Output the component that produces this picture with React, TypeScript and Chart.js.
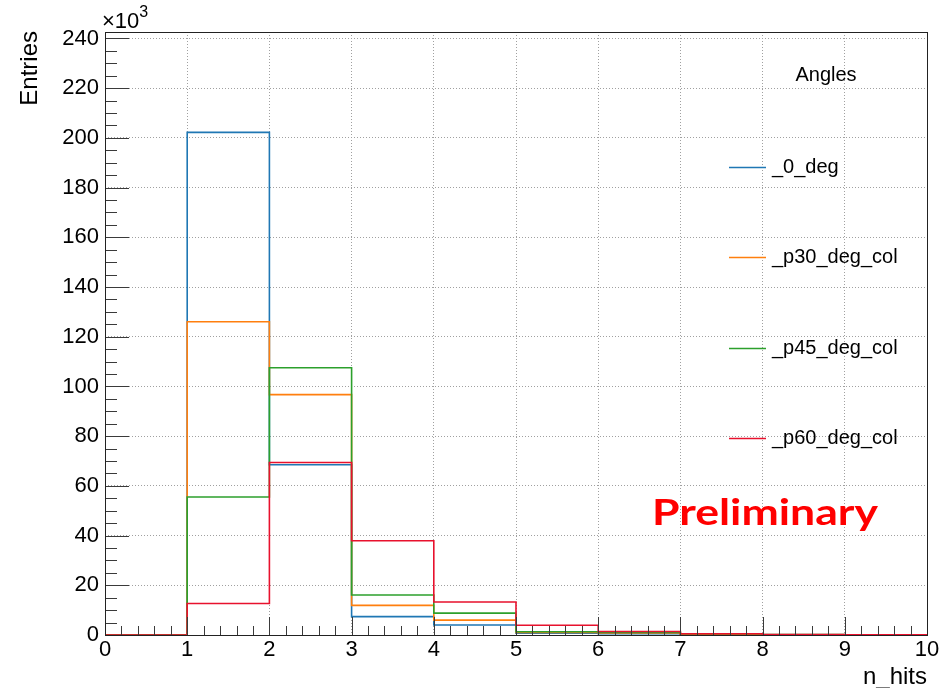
import React, { useEffect, useRef } from "react";
import { Chart, registerables } from "chart.js";

Chart.register(...registerables);

// ---- data ----
const binEdges = [0, 1, 2, 3, 4, 5, 6, 7, 8, 9, 10];
const seriesNames = ["_0_deg", "_p30_deg_col", "_p45_deg_col", "_p60_deg_col"];
const deg0 = [0, 202.2, 68.5, 7.4, 4.0, 0.7, 0.5, 0.2, 0.1, 0.05];
const p30 = [0, 126.0, 96.7, 11.9, 6.0, 1.0, 0.8, 0.3, 0.1, 0.05];
const p45 = [0, 55.5, 107.5, 16.1, 8.8, 1.3, 1.0, 0.5, 0.2, 0.1];
const p60 = [0, 12.7, 69.4, 37.9, 13.3, 3.9, 1.4, 0.5, 0.2, 0.1];
const xTickValues = [0, 1, 2, 3, 4, 5, 6, 7, 8, 9, 10];
const yTickValues = [0, 20, 40, 60, 80, 100, 120, 140, 160, 180, 200, 220, 240];
const yAxisMax = 242.6;

const seriesValues = [deg0, p30, p45, p60];
const colors = ["#1f77b4", "#ff7f0e", "#2ca02c", "#e8112d"];

const FONT = "'Liberation Sans', Arial, Helvetica, sans-serif";

// histogram outline: value v[i] spans [edge i, edge i+1]
function toSteps(values: number[]) {
  const pts = [{ x: binEdges[0], y: 0 }];
  values.forEach((v, i) => {
    pts.push({ x: binEdges[i], y: v });
    pts.push({ x: binEdges[i + 1], y: v });
  });
  return pts;
}

const rootStyle = {
  id: "rootStyle",
  afterDatasetsDraw(chart: any) {
    const { ctx, chartArea: a, scales } = chart;
    const x = scales.x;
    const y = scales.y;
    ctx.save();
    ctx.strokeStyle = "#3a3a3a";
    ctx.lineWidth = 1;
    ctx.beginPath();
    const yStep = yTickValues[1] - yTickValues[0];
    const yMinor = yStep / 4;
    const nY = Math.floor(yAxisMax / yMinor + 1e-9);
    for (let i = 0; i <= nY; i++) {
      const v = i * yMinor;
      const py = Math.round(y.getPixelForValue(v)) + 0.5;
      const len = i % 4 === 0 ? 24 : 12;
      ctx.moveTo(a.left, py);
      ctx.lineTo(a.left + len, py);
    }
    const xStep = xTickValues[1] - xTickValues[0];
    const xMinor = xStep / 5;
    const nX = Math.round((xTickValues[xTickValues.length - 1] - xTickValues[0]) / xMinor);
    for (let i = 0; i <= nX; i++) {
      const v = xTickValues[0] + i * xMinor;
      const px = Math.round(x.getPixelForValue(v)) + 0.5;
      const len = i % 5 === 0 ? 18 : 9;
      ctx.moveTo(px, a.bottom);
      ctx.lineTo(px, a.bottom - len);
    }
    ctx.stroke();
    ctx.strokeStyle = "#222";
    ctx.strokeRect(Math.round(a.left) + 0.5, Math.round(a.top) + 0.5, Math.round(a.right - a.left), Math.round(a.bottom - a.top));
    ctx.restore();
  },
  afterDraw(chart: any) {
    const { ctx, chartArea: a } = chart;
    ctx.save();
    ctx.fillStyle = "#000";
    ctx.save();
    ctx.translate(37, a.top - 1);
    ctx.rotate(-Math.PI / 2);
    ctx.font = `24px ${FONT}`;
    ctx.textAlign = "right";
    ctx.textBaseline = "alphabetic";
    ctx.fillText("Entries", 0, 0);
    ctx.restore();
    ctx.font = `24px ${FONT}`;
    ctx.textAlign = "right";
    ctx.textBaseline = "alphabetic";
    ctx.fillText("n_hits", a.right, 684);
    ctx.textAlign = "left";
    ctx.font = `22px ${FONT}`;
    ctx.fillText("\u00d710", a.left - 3, 28);
    const w = ctx.measureText("\u00d710").width;
    ctx.font = `16px ${FONT}`;
    ctx.fillText("3", a.left - 3 + w, 17);
    ctx.font = `20px ${FONT}`;
    ctx.textAlign = "center";
    ctx.textBaseline = "middle";
    ctx.fillText("Angles", 826, 75);
    const legendY = [167, 257, 348, 438];
    ctx.textAlign = "left";
    seriesNames.forEach((name, i) => {
      ctx.strokeStyle = colors[i];
      ctx.lineWidth = 1.6;
      ctx.beginPath();
      ctx.moveTo(729, legendY[i] + 0.5);
      ctx.lineTo(766, legendY[i] + 0.5);
      ctx.stroke();
      ctx.fillStyle = "#000";
      ctx.fillText(name, 772, legendY[i]);
    });
    ctx.font = `bold 36px Lato, 'Liberation Sans', sans-serif`;
    ctx.textAlign = "left";
    ctx.textBaseline = "alphabetic";
    const pw = ctx.measureText("Preliminary").width;
    const sx = 226 / pw;
    ctx.save();
    ctx.translate(652, 525);
    ctx.scale(sx, 1);
    ctx.fillStyle = "#ff0000";
    ctx.fillText("Preliminary", 0, 0);
    ctx.restore();
    ctx.restore();
  },
};

export default function App() {
  const ref = useRef<HTMLCanvasElement | null>(null);
  useEffect(() => {
    if (!ref.current) return;
    const datasets = seriesValues.map((vals, i) => ({
      label: seriesNames[i],
      data: toSteps(vals),
      borderColor: colors[i],
      backgroundColor: colors[i],
      borderWidth: 1.6,
      pointRadius: 0,
      fill: false,
      clip: 4,
      order: seriesValues.length - i,
    }));
    const chart = new Chart(ref.current, {
      type: "line",
      data: { datasets },
      plugins: [rootStyle],
      options: {
        animation: false,
        responsive: true,
        maintainAspectRatio: false,
        layout: { padding: { top: 32, right: 12, left: 0, bottom: 0 } },
        plugins: { legend: { display: false }, tooltip: { enabled: false } },
        scales: {
          x: {
            type: "linear",
            min: xTickValues[0],
            max: xTickValues[xTickValues.length - 1],
            afterBuildTicks: (s: any) => {
              s.ticks = xTickValues.map((v) => ({ value: v }));
            },
            afterFit: (s: any) => {
              s.height = 53;
              s.paddingLeft = 0;
              s.paddingRight = 0;
            },
            ticks: {
              color: "#000",
              font: { family: FONT, size: 22 },
              padding: 2,
              maxRotation: 0,
              autoSkip: false,
              callback: (v: any) => String(v),
            },
            grid: { color: "#a0a0a0", lineWidth: 1, drawTicks: false },
            border: { display: false, dash: [1, 2] },
          },
          y: {
            type: "linear",
            min: 0,
            max: yAxisMax,
            afterBuildTicks: (s: any) => {
              s.ticks = yTickValues.map((v) => ({ value: v }));
            },
            afterFit: (s: any) => {
              s.width = 105;
              s.paddingTop = 0;
              s.paddingBottom = 0;
            },
            ticks: {
              color: "#000",
              font: { family: FONT, size: 22 },
              padding: 6,
              autoSkip: false,
              callback: (v: any) => String(v),
            },
            grid: { color: "#a0a0a0", lineWidth: 1, drawTicks: false },
            border: { display: false, dash: [1, 2] },
          },
        },
      },
    });
    return () => chart.destroy();
  }, []);
  return (
    <div style={{ position: "fixed", left: 0, top: 0, width: 939, height: 688, background: "#fff" }}>
      <canvas ref={ref} />
    </div>
  );
}
